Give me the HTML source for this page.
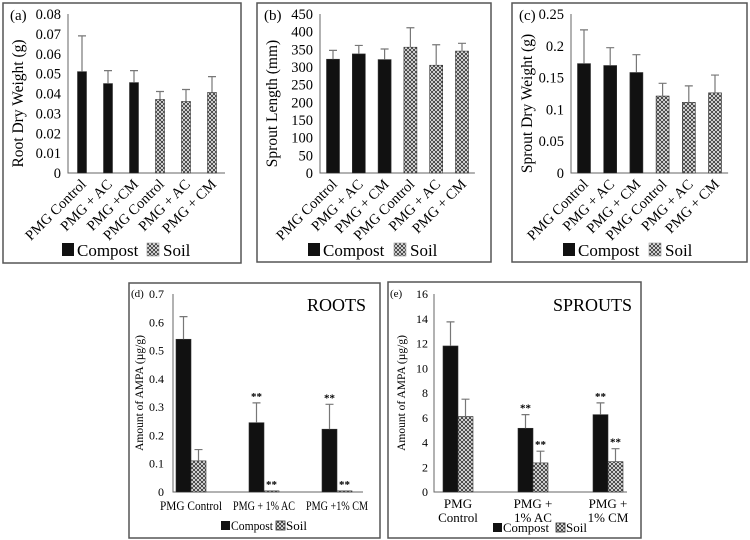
<!DOCTYPE html>
<html><head><meta charset="utf-8"><style>
html,body{margin:0;padding:0;background:#fff}
svg{display:block;font-family:"Liberation Serif",serif}
</style></head><body>
<svg id="fig" width="750" height="540" viewBox="0 0 750 540" xmlns="http://www.w3.org/2000/svg">
<defs>
<pattern id="chk" width="4" height="4" patternUnits="userSpaceOnUse">
<rect width="4" height="4" fill="#fff"/>
<path d="M0 0L2 2L0 4M4 0L2 2L4 4" stroke="#444" stroke-width="1" fill="none"/>
</pattern>
</defs>
</svg>
<script>
const catsTop = ["PMG Control","PMG + AC","PMG +CM","PMG Control","PMG + AC","PMG + CM"];
const catsTopB = ["PMG Control","PMG + AC","PMG + CM","PMG Control","PMG + AC","PMG + CM"];
const seriesTop = ["Compost","Compost","Compost","Soil","Soil","Soil"];
const valsA = [0.051,0.045,0.0455,0.037,0.036,0.0405];
const errA = [0.018,0.0065,0.006,0.004,0.006,0.008];
const ticksA = ["0","0.01","0.02","0.03","0.04","0.05","0.06","0.07","0.08"];
const valsB = [322,337,321,356,305,345];
const errB = [25,24,30,55,58,22];
const ticksB = ["0","50","100","150","200","250","300","350","400","450"];
const valsC = [0.172,0.169,0.158,0.121,0.111,0.126];
const errC = [0.053,0.028,0.028,0.02,0.026,0.028];
const ticksC = ["0","0.05","0.1","0.15","0.2","0.25"];
const groupsD = ["PMG Control","PMG + 1% AC","PMG +1% CM"];
const compostD = [0.54,0.245,0.222];
const compostErrD = [0.08,0.07,0.088];
const soilD = [0.11,0.004,0.004];
const soilErrD = [0.04,0,0];
const ticksD = ["0","0.1","0.2","0.3","0.4","0.5","0.6","0.7"];
const sigCompostD = ["","**","**"];
const sigSoilD = ["","**","**"];
const groupsE = [["PMG","Control"],["PMG +","1% AC"],["PMG +","1% CM"]];
const compostE = [11.8,5.15,6.25];
const compostErrE = [1.95,1.1,0.95];
const soilE = [6.1,2.35,2.45];
const soilErrE = [1.4,0.95,1.05];
const ticksE = ["0","2","4","6","8","10","12","14","16"];
const sigCompostE = ["","**","**"];
const sigSoilE = ["","**","**"];

const svg = document.getElementById('fig');
const NS = "http://www.w3.org/2000/svg";
function mk(tag, attrs, parent, text){
  const e = document.createElementNS(NS, tag);
  for (const k in attrs) e.setAttribute(k, attrs[k]);
  if (text !== undefined) e.textContent = text;
  (parent||svg).appendChild(e);
  return e;
}
function fillFor(s){ return s === "Compost" ? "#111" : "url(#chk)"; }

function topPanel(id, box, axisX, x0, step, bw, ticks, vals, errs, cats, ytitle, leg){
  const g = mk('g', {});
  
  
  const fr = mk('rect', {x:box[0], y:box[1], width:box[2], height:box[3], fill:'none', stroke:'#555', 'stroke-width':1.5}, g);
  
  
  const yTop = 14, yBot = 173;
  const max = parseFloat(ticks[ticks.length-1]);
  const ys = v => yBot - v / max * (yBot - yTop);
  const lab = mk('text', {x:box[0]+7, y:20, 'font-size':15}, g, '(' + id + ')');
  
  
  ticks.forEach(t => {
    const tx = mk('text', {x:axisX-7, y:ys(parseFloat(t))+5, 'font-size':14.5, 'text-anchor':'end'}, g, t);
    
    
  });
  const xl = x0 + step * (vals.length - 0.5);
  const ax = mk('path', {d:`M${axisX} ${yTop}V${yBot}H${xl}`, stroke:'#666', fill:'none', 'stroke-width':1}, g);
  
  
  vals.forEach((v, i) => {
    const cx = x0 + i * step;
    const b = mk('rect', {x:cx-bw/2, y:ys(v), width:bw, height:yBot-ys(v), fill:fillFor(seriesTop[i]), stroke:'#333', 'stroke-width':0.6}, g);
    
    
    const ye = ys(v + errs[i]);
    const e = mk('path', {d:`M${cx} ${ys(v)}V${ye}M${cx-4} ${ye}H${cx+4}`, stroke:'#777', 'stroke-width':1.2, fill:'none'}, g);
    
    
    const t = mk('text', {x:0, y:0, 'font-size':14.5, 'text-anchor':'end', transform:`translate(${cx+5},${yBot+12}) rotate(-45)`}, g, cats[i]);
    
    
  });
  const yt = mk('text', {x:0, y:0, 'font-size':15.5, 'text-anchor':'middle', transform:`translate(${box[0]+20},${(yTop+yBot)/2+10}) rotate(-90)`}, g, ytitle);
  
  
  const l1 = mk('rect', {x:leg[0], y:243, width:12, height:13, fill:'#111'}, g);
  
  
  const t1 = mk('text', {x:leg[0]+15, y:256, 'font-size':17}, g, 'Compost');
  
  
  const l2 = mk('rect', {x:leg[1], y:243, width:12, height:13, fill:'url(#chk)', stroke:'#999', 'stroke-width':0.6}, g);
  
  
  const t2 = mk('text', {x:leg[1]+16, y:256, 'font-size':17}, g, 'Soil');
  
  
}
topPanel('a', [3,3,238,260], 68, 82, 26, 9, ticksA, valsA, errA, catsTop, 'Root Dry Weight (g)', [62,147]);
topPanel('b', [257,3,234,259], 320, 333, 25.8, 13, ticksB, valsB, errB, catsTopB, 'Sprout Length (mm)', [308,394]);
topPanel('c', [512,3,235,259], 571, 584, 26.2, 13, ticksC, valsC, errC, catsTopB, 'Sprout Dry Weight (g)', [563,649]);

function bottomPanel(id, box, axisX, xEnd, centers, bw, ticks, comp, compE, soil, soilE, sigC, sigS, groups, title, titleX, legX, tickGap, titleOff){
  const g = mk('g', {});
  
  
  const fr = mk('rect', {x:box[0], y:box[1], width:box[2], height:box[3], fill:'none', stroke:'#555', 'stroke-width':1.5}, g);
  
  
  const yTop = 294, yBot = 492;
  const max = parseFloat(ticks[ticks.length-1]);
  const ys = v => yBot - v / max * (yBot - yTop);
  const lab = mk('text', {x:box[0]+2, y:297, 'font-size':11}, g, '(' + id + ')');
  
  
  ticks.forEach(t => {
    const tx = mk('text', {x:axisX-tickGap, y:ys(parseFloat(t))+4, 'font-size':12, 'text-anchor':'end'}, g, t);
    
    
  });
  const ax = mk('path', {d:`M${axisX} ${yTop}V${yBot}H${xEnd}`, stroke:'#666', fill:'none', 'stroke-width':1}, g);
  
  
  const tt = mk('text', {x:titleX, y:311, 'font-size':18, 'text-anchor':'end'}, g, title);
  
  
  centers.forEach((cx, i) => {
    [[comp, compE, sigC, 'Compost', cx-bw], [soil, soilE, sigS, 'Soil', cx]].forEach(([vals, errs, sig, s, bx]) => {
      const v = vals[i];
      const b = mk('rect', {x:bx, y:ys(v), width:bw, height:Math.max(yBot-ys(v),0.5), fill:fillFor(s), stroke:'#333', 'stroke-width':0.6}, g);
      
      
      const mx = bx + bw/2;
      const ye = ys(v + errs[i]);
      if (errs[i] > 0) {
        const e = mk('path', {d:`M${mx} ${ys(v)}V${ye}M${mx-4} ${ye}H${mx+4}`, stroke:'#777', 'stroke-width':1.2, fill:'none'}, g);
        
        
      }
      if (sig[i]) {
        const st = mk('text', {x:mx, y:ye-3, 'font-size':11, 'font-weight':'bold', 'text-anchor':'middle'}, g, sig[i]);
        
        
      }
    });
    const lines = Array.isArray(groups[i]) ? groups[i] : [groups[i]];
    lines.forEach((ln, k) => {
      const attrs = {x:cx, y:(lines.length > 1 ? 508 : 510) + k*14, 'font-size':13, 'text-anchor':'middle'};
      if (lines.length === 1) { attrs.textLength = 62; attrs.lengthAdjust = 'spacingAndGlyphs'; }
      const t = mk('text', attrs, g, ln);
      
      
    });
  });
  const legY = id === 'd' ? 530 : 532;
  const l1 = mk('rect', {x:legX[0], y:legY-9, width:9, height:9, fill:'#111'}, g);
  
  
  const t1 = mk('text', {x:legX[0]+10, y:legY, 'font-size':13, textLength:legX[2], lengthAdjust:'spacingAndGlyphs'}, g, 'Compost');
  
  
  const l2 = mk('rect', {x:legX[1], y:legY-9, width:9, height:9, fill:'url(#chk)', stroke:'#333', 'stroke-width':0.8}, g);
  
  
  const t2 = mk('text', {x:legX[1]+10, y:legY, 'font-size':13}, g, 'Soil');
  
  
  const yt = mk('text', {x:0, y:0, 'font-size':11.5, 'text-anchor':'middle', transform:`translate(${box[0]+titleOff},${(yTop+yBot)/2}) rotate(-90)`}, g, 'Amount of AMPA (µg/g)');
  
  
}
bottomPanel('d', [129,283,251,255], 173, 363, [191,264,337], 15, ticksD, compostD, compostErrD, soilD, soilErrD, sigCompostD, sigSoilD, groupsD, 'ROOTS', 366, [221,276,42], 9, 14);
bottomPanel('e', [388,282,253,256], 434, 627, [458,533,608], 15, ticksE, compostE, compostErrE, soilE, soilErrE, sigCompostE, sigSoilE, groupsE, 'SPROUTS', 632, [493,556,46], 6, 17);
</script>
</body></html>
